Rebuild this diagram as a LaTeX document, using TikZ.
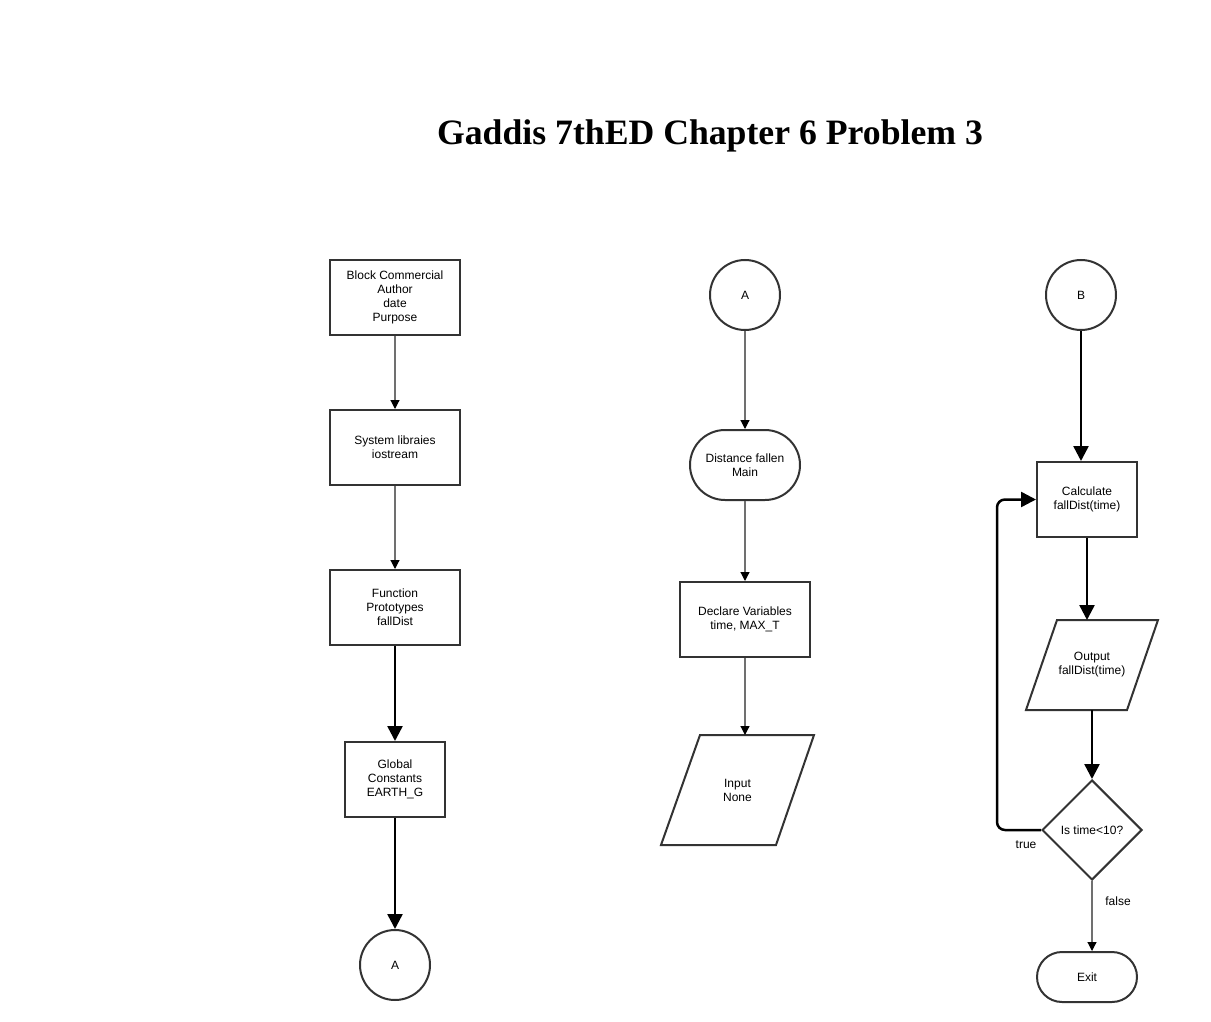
\documentclass[tikz,border=0pt]{standalone}
\usepackage{fontspec}
\setmainfont{Liberation Serif}
\setsansfont{Liberation Sans}
\usetikzlibrary{arrows.meta,shapes.geometric,calc}
\definecolor{edge}{HTML}{333333}
\definecolor{thinline}{HTML}{707070}
\tikzset{
  box/.style={draw=edge,line width=2pt,rectangle,align=center,inner sep=0pt,
    font=\sffamily\fontsize{12}{14}\selectfont},
  conn/.style={draw=edge,line width=2pt,circle,minimum size=70pt,inner sep=0pt,
    font=\sffamily\fontsize{12}{14}\selectfont},
  paratext/.style={rectangle,align=center,inner sep=0pt,outer sep=0pt,
    font=\sffamily\fontsize{12}{14}\selectfont},
  paraedge/.style={draw=edge,line width=2pt,line join=miter},
  dia/.style={draw=edge,line width=2pt,diamond,minimum width=100pt,minimum height=100pt,
    inner sep=0pt,font=\sffamily\fontsize{12}{14}\selectfont},
  thinarrow/.style={draw=thinline,line width=1.2pt,-{Triangle[width=9pt,length=9pt,black]}},
  thickarrow/.style={draw=black,line width=2.5pt,-{Triangle[width=15pt,length=15pt]}},
  lbl/.style={font=\sffamily\fontsize{12}{14}\selectfont,inner sep=0pt},
}
\begin{document}
\begin{tikzpicture}[x=1pt,y=-1pt]
\useasboundingbox (0,0) rectangle (1211,1022);
\node[font=\bfseries\fontsize{35.7}{40}\selectfont] (title) at (710,136) {Gaddis 7thED Chapter 6 Problem 3};

% left column
\node[box,minimum width=130pt,minimum height=75pt] (block) at (395,297.5) {Block Commercial\\Author\\date\\Purpose};
\node[box,minimum width=130pt,minimum height=75pt] (sys) at (395,447.5) {System libraies\\iostream};
\node[box,minimum width=130pt,minimum height=75pt] (func) at (395,607.5) {Function\\Prototypes\\fallDist};
\node[box,minimum width=100pt,minimum height=75pt] (glob) at (395,779.5) {Global\\Constants\\EARTH\_G};
\node[conn] (a1) at (395,965) {A};

\draw[thinarrow] (block) -- (sys);
\draw[thinarrow] (sys) -- (func);
\draw[thickarrow] (func) -- (glob);
\draw[thickarrow] (glob) -- (a1);

% middle column
\node[conn] (a2) at (745,295) {A};
\node[box,minimum width=110pt,minimum height=70pt,rounded corners=35pt] (main) at (745,465) {Distance fallen\\Main};
\node[box,minimum width=130pt,minimum height=75pt] (decl) at (745,619.5) {Declare Variables\\time, MAX\_T};
\node[paratext,minimum width=153pt,minimum height=110pt] (inp) at (737.5,790) {Input\\None};
\draw[paraedge] ($(inp.north west)+(39,0)$) -- (inp.north east) -- ($(inp.south east)+(-38,0)$) -- (inp.south west) -- cycle;

\draw[thinarrow] (a2) -- (main);
\draw[thinarrow] (main) -- (decl);
\draw[thinarrow] (decl) -- (decl.south |- inp.north);

% right column
\node[conn] (b) at (1081,295) {B};
\node[box,minimum width=100pt,minimum height=75pt] (calc) at (1087,499.5) {Calculate\\fallDist(time)};
\node[paratext,minimum width=132pt,minimum height=90pt] (out) at (1092,665) {Output\\fallDist(time)};
\draw[paraedge] ($(out.north west)+(31,0)$) -- (out.north east) -- ($(out.south east)+(-31,0)$) -- (out.south west) -- cycle;
\node[dia] (test) at (1092,830) {Is time<10?};
\node[box,minimum width=100pt,minimum height=50pt,rounded corners=25pt] (exit) at (1087,977) {Exit};
\coordinate (loop) at (997,499.5);

\draw[thickarrow] (b) -- (b |- calc.north);
\draw[thickarrow] (calc) -- (calc.south |- out.north);
\draw[thickarrow] (out.south -| test.north) -- (test.north);
\draw[thickarrow,rounded corners=8pt] (test.west) -| (loop) -- (calc.west);
\draw[thinarrow] (test.south) -- (test.south |- exit.north);
\node[lbl] (tlab) at (1026,845) {true};
\node[lbl] (flab) at (1118,901) {false};
\end{tikzpicture}
\end{document}
